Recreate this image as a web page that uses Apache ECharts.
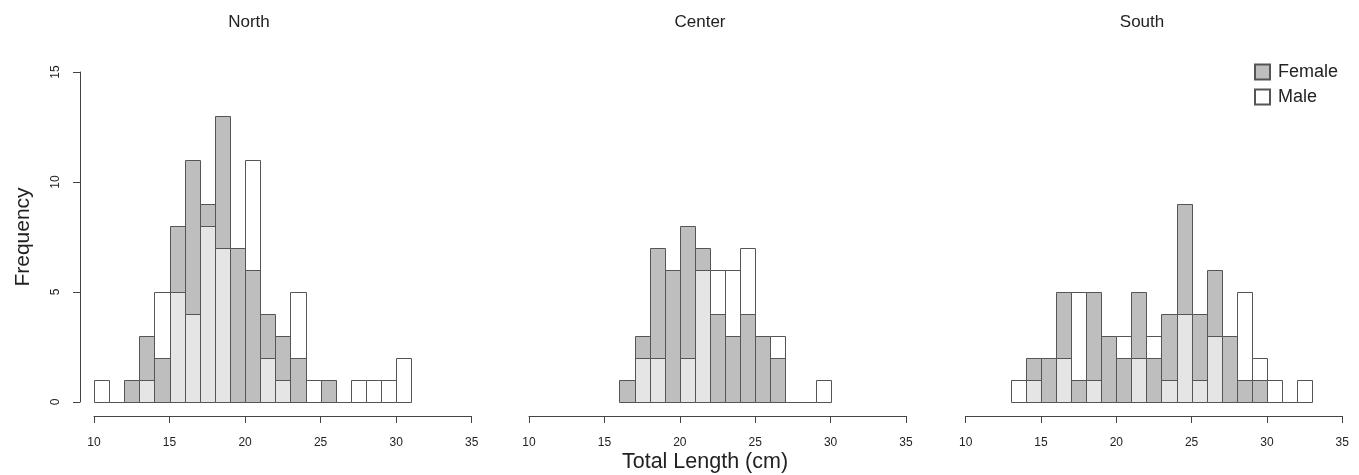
<!DOCTYPE html>
<html><head><meta charset="utf-8">
<script src="https://cdn.jsdelivr.net/npm/echarts@6/dist/echarts.min.js"></script>
<style>html,body{margin:0;padding:0;background:#fff}#c{width:1359px;height:475px}</style>
</head><body><div id="c"></div>
<script>
// Histogram bins: lower edges (width 1 cm)
const binStarts = [10,11,12,13,14,15,16,17,18,19,20,21,22,23,24,25,26,27,28,29,30,31,32,33,34];
const regions = ['North', 'Center', 'South'];
const xTicks = [10, 15, 20, 25, 30, 35];
const yTicks = [0, 5, 10, 15];

const northFemale  = [0,0,1,3,2,8,11,9,13,7,6,4,3,2,0,1,0,0,0,0,0,0,0,0,0];
const northMale    = [1,0,0,1,5,5,4,8,7,7,11,2,1,5,1,0,0,1,1,1,2,0,0,0,0];
const centerFemale = [0,0,0,0,0,0,1,3,7,6,8,7,4,3,4,3,2,0,0,0,0,0,0,0,0];
const centerMale   = [0,0,0,0,0,0,0,2,2,0,2,6,6,6,7,0,3,0,0,1,0,0,0,0,0];
const southFemale  = [0,0,0,0,2,2,5,1,5,3,2,5,2,4,9,4,6,3,1,1,0,0,0,0,0];
const southMale    = [0,0,0,1,1,0,2,5,1,0,3,2,3,1,4,1,3,0,5,2,1,0,1,0,0];

const femaleByRegion = [northFemale, centerFemale, southFemale];
const maleByRegion = [northMale, centerMale, southMale];

const GRAY = '#bebebe', LIGHT = '#e5e5e5', WHITE = '#ffffff', EDGE = '#555555';
const FONT = '"Liberation Sans", Arial, Helvetica, sans-serif';

const gridLefts = [94, 529, 965.7];
const gridWidths = [377.7, 377, 376.5];

function renderBins(params, api) {
  const lo = api.value(0), hi = api.value(1), f = api.value(2), m = api.value(3), inRange = api.value(4);
  const back = Math.max(f, m), front = Math.min(f, m);
  const children = [];
  function rect(h, fill) {
    const p0 = api.coord([lo, 0]), p1 = api.coord([hi, h]);
    return { type: 'rect',
      shape: { x: Math.round(p0[0]) + 0.5, y: Math.round(p1[1]) + 0.5,
               width: Math.round(p1[0]) - Math.round(p0[0]), height: Math.round(p0[1]) - Math.round(p1[1]) },
      style: { fill: fill, stroke: EDGE, lineWidth: 1 } };
  }
  if (back > 0) children.push(rect(back, f >= m ? GRAY : WHITE));
  else if (inRange) children.push(rect(0, 'none'));
  if (front > 0) children.push(rect(front, f > m ? LIGHT : GRAY));
  return { type: 'group', children: children };
}

const grids = [], xAxes = [], yAxes = [], series = [];
regions.forEach(function (name, i) {
  grids.push({ left: gridLefts[i], width: gridWidths[i], top: 72, height: 330 });
  xAxes.push({ gridIndex: i, type: 'value', min: xTicks[0], max: xTicks[xTicks.length - 1], interval: 5,
    offset: 14,
    axisLine: { show: true, onZero: false, lineStyle: { color: '#444', width: 1 } },
    axisTick: { show: true, length: 7, lineStyle: { color: '#444' } },
    axisLabel: { fontSize: 12, color: '#222', margin: 21, fontFamily: FONT },
    splitLine: { show: false } });
  yAxes.push({ gridIndex: i, type: 'value', min: yTicks[0], max: yTicks[yTicks.length - 1], interval: 5,
    show: i === 0, offset: 14,
    name: i === 0 ? 'Frequency' : '', nameLocation: 'middle', nameGap: 46, nameRotate: 90,
    nameTextStyle: { fontSize: 21, color: '#222', fontFamily: FONT },
    axisLine: { show: true, onZero: false, lineStyle: { color: '#444', width: 1 } },
    axisTick: { show: true, length: 7, lineStyle: { color: '#444' } },
    axisLabel: { fontSize: 12, color: '#222', rotate: 90, margin: 18, fontFamily: FONT },
    splitLine: { show: false } });
  const fem = femaleByRegion[i], mal = maleByRegion[i];
  let first = -1, last = -1;
  binStarts.forEach(function (b, k) {
    if (fem[k] > 0 || mal[k] > 0) { if (first < 0) first = k; last = k; }
  });
  const data = binStarts.map(function (b, k) {
    return [b, b + 1, fem[k], mal[k], (k >= first && k <= last) ? 1 : 0];
  });
  series.push({ type: 'custom', name: name, xAxisIndex: i, yAxisIndex: i, clip: false,
    renderItem: renderBins, encode: { x: [0, 1], y: [2, 3] }, data: data, silent: true });
});

// Legend entries
series.push({ type: 'bar', name: 'Female', xAxisIndex: 2, yAxisIndex: 2, data: [],
  itemStyle: { color: GRAY, borderColor: EDGE, borderWidth: 1 } });
series.push({ type: 'bar', name: 'Male', xAxisIndex: 2, yAxisIndex: 2, data: [],
  itemStyle: { color: WHITE, borderColor: EDGE, borderWidth: 1 } });

const titleX = [249, 700, 1142];
const graphics = regions.map(function (name, i) {
  return { type: 'text', x: titleX[i], y: 22,
    style: { text: name, fontSize: 17, fill: '#222', fontFamily: FONT, align: 'center', verticalAlign: 'middle' } };
});
graphics.push({ type: 'text', x: 705, y: 462,
  style: { text: 'Total Length (cm)', fontSize: 21.5, fill: '#222', fontFamily: FONT, align: 'center', verticalAlign: 'middle' } });

const chart = echarts.init(document.getElementById('c'), null, { renderer: 'canvas' });
chart.setOption({
  animation: false,
  backgroundColor: '#fff',
  grid: grids, xAxis: xAxes, yAxis: yAxes, series: series,
  graphic: graphics,
  legend: { data: [{ name: 'Female', icon: 'rect' }, { name: 'Male', icon: 'rect' }],
    orient: 'vertical', left: 1254, top: 63, padding: 0,
    itemWidth: 15, itemHeight: 15, itemGap: 7, selectedMode: false,
    textStyle: { fontSize: 18, color: '#222', fontFamily: FONT, padding: [0, 0, 0, 3] } }
});
</script></body></html>
